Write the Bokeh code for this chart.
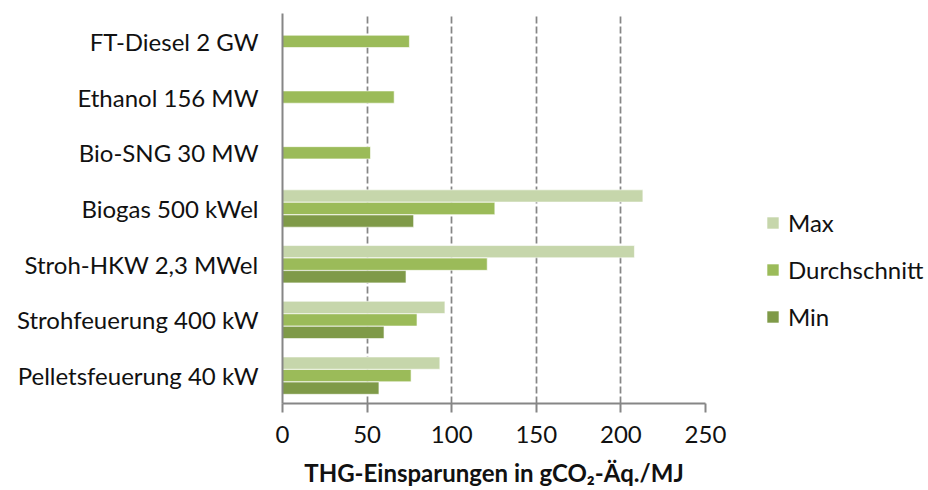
import math
from bokeh.plotting import figure
from bokeh.models import ColumnDataSource, FactorRange, Range1d, Legend, LegendItem, FixedTicker
from bokeh.transform import dodge
from bokeh.embed import file_html
from bokeh.resources import INLINE

nan = float("nan")

# Categories listed bottom to top
categories = [
    "Pelletsfeuerung 40 kW",
    "Strohfeuerung 400 kW",
    "Stroh-HKW 2,3 MWel",
    "Biogas 500 kWel",
    "Bio-SNG 30 MW",
    "Ethanol 156 MW",
    "FT-Diesel 2 GW",
]
series_names = ["Max", "Durchschnitt", "Min"]
max_vals = [93, 96, 208, 213, nan, nan, nan]
avg_vals = [76, 79.5, 121, 125.5, 52, 66, 75]
min_vals = [57, 60, 73, 77.5, nan, nan, nan]
x_ticks = [0, 50, 100, 150, 200, 250]
x_title = "THG-Einsparungen in gCO\u2082-\u00c4q./MJ"

colors = ["#C6D6AB", "#9BBB59", "#7F9A48"]
offsets = [0.225, 0.0, -0.225]

FONT = "Lato"
TEXT = "#111111"
AXIS = "#868686"

source = ColumnDataSource(dict(cat=categories, Max=max_vals, Durchschnitt=avg_vals, Min=min_vals))

p = figure(
    y_range=FactorRange(factors=categories, range_padding=0),
    x_range=Range1d(0, 250),
    frame_width=423, frame_height=390,
    min_border_left=282, min_border_right=223, min_border_top=13, min_border_bottom=87,
    output_backend="svg", toolbar_location=None,
)

renderers = []
for name, color, off in zip(series_names, colors, offsets):
    r = p.hbar(y=dodge("cat", off, range=p.y_range), left=0, right=name, height=0.22,
               source=source, fill_color=color, line_color="white", line_width=1, line_alpha=0.6)
    renderers.append(r)

legend = Legend(
    items=[LegendItem(label=n, renderers=[r]) for n, r in zip(series_names, renderers)],
    location=(60, 72), orientation="vertical",
    glyph_width=15, glyph_height=15, label_standoff=8,
    label_text_font=FONT, label_text_font_size="24px", label_text_color=TEXT,
    spacing=18, padding=0, margin=0,
    border_line_color=None, background_fill_alpha=0,
)
p.add_layout(legend, "right")

p.outline_line_color = None
p.background_fill_color = "white"
p.border_fill_color = "white"

# x axis
p.xaxis.ticker = FixedTicker(ticks=x_ticks)
p.xaxis.axis_label = x_title
p.xaxis.axis_label_text_font = FONT
p.xaxis.axis_label_text_font_style = "bold"
p.xaxis.axis_label_text_font_size = "24px"
p.xaxis.axis_label_text_color = TEXT
p.xaxis.axis_label_standoff = 12
p.xaxis.major_label_text_font = FONT
p.xaxis.major_label_text_font_size = "24px"
p.xaxis.major_label_text_color = TEXT
p.xaxis.major_label_standoff = 13
p.xaxis.axis_line_color = AXIS
p.xaxis.axis_line_width = 2
p.xaxis.major_tick_line_color = AXIS
p.xaxis.major_tick_line_width = 2
p.xaxis.major_tick_out = 9
p.xaxis.major_tick_in = 0
p.xaxis.minor_tick_line_color = None

# y axis
p.yaxis.major_label_text_font = FONT
p.yaxis.major_label_text_font_size = "24px"
p.yaxis.major_label_text_color = TEXT
p.yaxis.major_label_standoff = 18
p.yaxis.axis_line_color = AXIS
p.yaxis.axis_line_width = 2
p.yaxis.major_tick_line_color = None
p.yaxis.minor_tick_line_color = None

# grid
p.ygrid.visible = False
p.xgrid.grid_line_color = AXIS
p.xgrid.grid_line_width = 1.75
p.xgrid.grid_line_dash = "7 3"

open("out.html", "w").write(file_html(p, INLINE))
